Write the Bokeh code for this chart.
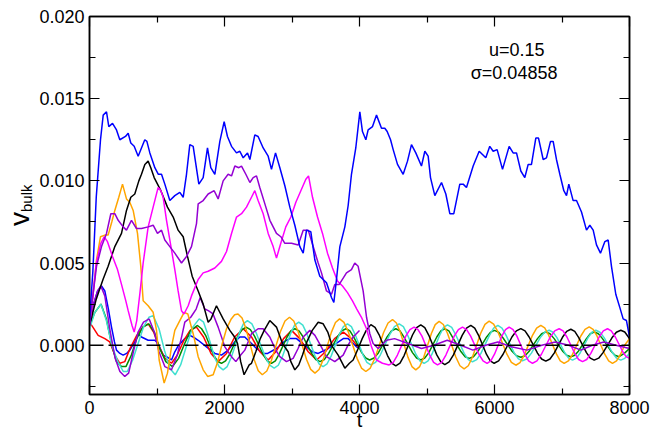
import math
from bokeh.plotting import figure
from bokeh.layouts import row
from bokeh.models import Range1d, FixedTicker, PrintfTickFormatter, LinearAxis, Span, Label, Div
from bokeh.embed import file_html
from bokeh.resources import INLINE

# ---------------- data ----------------
t_blue = [0, 50, 100, 163, 203, 252, 286, 341, 400, 449, 533, 573, 612, 662, 721, 770, 819, 850, 894, 968,
          1020, 1067, 1116, 1190, 1264, 1338, 1388, 1437, 1486, 1536, 1620, 1684, 1748, 1797, 1857, 1931, 1995,
          2044, 2104, 2178, 2227, 2277, 2341, 2376, 2449, 2498, 2573, 2647, 2696, 2756, 2820, 2894, 2968, 3042,
          3116, 3166, 3215, 3279, 3338, 3412, 3511, 3585, 3620, 3659, 3709, 3783, 3832, 3881, 3945, 4005, 4044,
          4094, 4128, 4193, 4252, 4326, 4375, 4410, 4460, 4499, 4563, 4647, 4711, 4770, 4834, 4918, 4968, 5017,
          5052, 5116, 5215, 5279, 5338, 5397, 5486, 5536, 5585, 5684, 5773, 5871, 5930, 5980, 6039, 6119, 6217,
          6276, 6326, 6390, 6449, 6499, 6548, 6612, 6652, 6721, 6770, 6830, 6869, 6918, 6968, 7027, 7067, 7101,
          7165, 7215, 7289, 7363, 7412, 7462, 7511, 7570, 7634, 7684, 7733, 7797, 7856, 7906, 7955, 8000]
v_blue = [0.0015, 0.0045, 0.0090, 0.0125, 0.0140, 0.0142, 0.0133, 0.0135, 0.0131, 0.0125, 0.0127, 0.0129,
          0.0123, 0.0121, 0.0115, 0.0120, 0.0125, 0.0124, 0.0117, 0.0108, 0.0104, 0.0104, 0.0098, 0.0088, 0.0091,
          0.0093, 0.0090, 0.0104, 0.0122, 0.0121, 0.0098, 0.0102, 0.0120, 0.0108, 0.0104, 0.0124, 0.0136, 0.0127,
          0.0121, 0.0117, 0.0118, 0.0114, 0.0117, 0.0113, 0.0128, 0.0127, 0.0120, 0.0115, 0.0107, 0.0117, 0.0108,
          0.0097, 0.0084, 0.0073, 0.0060, 0.0056, 0.0070, 0.0069, 0.0052, 0.0042, 0.0038, 0.0029, 0.0026, 0.0040,
          0.0060, 0.0072, 0.0085, 0.0104, 0.0120, 0.0142, 0.0130, 0.0125, 0.0131, 0.0133, 0.0140, 0.0132, 0.0132,
          0.0130, 0.0125, 0.0119, 0.0110, 0.0104, 0.0112, 0.0122, 0.0117, 0.0109, 0.0118, 0.0115, 0.0102, 0.0091,
          0.0099, 0.0092, 0.0080, 0.0080, 0.0098, 0.0098, 0.0096, 0.0109, 0.0118, 0.0114, 0.0121, 0.0118, 0.0119,
          0.0107, 0.0121, 0.0117, 0.0117, 0.0106, 0.0102, 0.0110, 0.0110, 0.0126, 0.0126, 0.0113, 0.0114, 0.0124,
          0.0124, 0.0113, 0.0104, 0.0094, 0.0091, 0.0098, 0.0088, 0.0088, 0.0081, 0.0070, 0.0073, 0.0070, 0.0061,
          0.0056, 0.0063, 0.0064, 0.0048, 0.0031, 0.0023, 0.0016, 0.0015, 0.0005]

t_black = [0, 50, 100, 150, 200, 276, 375, 474, 548, 612, 671, 731, 770, 820, 869, 908, 958, 1057, 1155, 1240,
           1313, 1388, 1452, 1521, 1610, 1684, 1758, 1800, 1881, 1980, 2079, 2150, 2193, 2240, 2290, 2366, 2400,
           2464, 2530, 2588, 2671, 2770, 2859, 2943, 2983, 3042, 3100, 3156, 3220, 3300, 3388, 3462, 3530, 3600,
           3684, 3783, 3850, 3906, 3980, 4040, 4100, 4168, 4230, 4291, 4415, 4476, 4538, 4600, 4661, 4785, 4846,
           4908, 4967, 5027, 5145, 5205, 5264, 5328, 5392, 5521, 5585, 5649, 5707, 5764, 5880, 5937, 5995, 6061,
           6127, 6258, 6324, 6390, 6452, 6513, 6637, 6698, 6760, 6822, 6884, 7007, 7069, 7131, 7189, 7246, 7362,
           7419, 7477, 7543, 7608, 7740, 7805, 7871, 7930, 8000]
v_black = [0.0012, 0.0020, 0.0028, 0.0034, 0.0040, 0.0048, 0.0060, 0.0068, 0.0082, 0.0090, 0.0092, 0.0100,
           0.0104, 0.0110, 0.0112, 0.0108, 0.0102, 0.0094, 0.0084, 0.0078, 0.0070, 0.0066, 0.0054, 0.0042, 0.0033,
           0.0025, 0.0014, 0.0016, 0.0024, 0.0016, 0.0009, 0.0005, 0.0001, -0.0010, -0.0018, -0.0012, -0.0011,
           -0.0004, 0.0004, 0.0009, 0.0015, 0.0011, 0.0001, -0.0004, -0.0010, -0.0015, -0.0012, -0.0006, 0.0002,
           0.0009, 0.0014, 0.0013, 0.0008, -0.0001, -0.0006, -0.0014, -0.0011, -0.0009, -0.0002, 0.0004, 0.0009,
           0.00125, 0.00108, 0.00063, -0.00063, -0.00109, -0.00126, -0.00109, -0.00063, 0.00062, 0.00107,
           0.00124, 0.00107, 0.0006, -0.00059, -0.00102, -0.00118, -0.00102, -0.00059, 0.0006, 0.00104,
           0.0012, 0.00104, 0.0006, -0.00055, -0.00095, -0.0011, -0.00095, -0.00055, 0.0005, 0.00087,
           0.00101, 0.00087, 0.0005, -0.00048, -0.00084, -0.00097, -0.00084, -0.00048, 0.00048, 0.00084,
           0.00097, 0.00084, 0.00048, -0.00045, -0.00079, -0.00091, -0.00079, -0.00045, 0.00045, 0.00079,
           0.00091, 0.0008, 0.0004]

t_orange = [0, 50, 104, 163, 227, 276, 330, 375, 434, 489, 548, 597, 647, 711, 760, 795, 869, 943, 993, 1032,
            1106, 1155, 1215, 1264, 1338, 1402, 1457, 1536, 1610, 1684, 1750, 1832, 1900, 1960, 2030, 2100, 2150,
            2200, 2260, 2320, 2440, 2500, 2560, 2627, 2694, 2829, 2896, 2963, 3026, 3089, 3214, 3277, 3340, 3401,
            3462, 3583, 3644, 3705, 3770, 3835, 3964, 4029, 4094, 4160, 4226, 4357, 4423, 4489, 4547, 4604, 4719,
            4777, 4834, 4892, 4949, 5065, 5122, 5180, 5242, 5303, 5427, 5488, 5550, 5612, 5674, 5797, 5859, 5921,
            5987, 6053, 6184, 6250, 6316, 6378, 6439, 6563, 6624, 6686, 6744, 6801, 6917, 6974, 7032, 7094, 7156,
            7279, 7341, 7403, 7461, 7518, 7633, 7691, 7748, 7808, 7868, 7928, 8000]
v_orange = [0.0012, 0.0030, 0.0052, 0.0066, 0.0067, 0.0067, 0.0075, 0.0082, 0.0090, 0.0098, 0.0089, 0.0087,
            0.0082, 0.0068, 0.0048, 0.0027, 0.0024, 0.0020, 0.0009, -0.0009, -0.0023, -0.0017, -0.0001, 0.0009,
            0.0015, 0.0020, 0.0019, 0.0007, -0.0007, -0.0015, -0.0019, -0.0018, -0.0010, 0.0000, 0.0010, 0.0016,
            0.00185, 0.0019, 0.00165, 0.00098, -0.00088, -0.00155, -0.0018, -0.00157, -0.00093, 0.00083, 0.00147,
            0.0017, 0.00147, 0.00085, -0.00085, -0.00147, -0.0017, -0.00148, -0.00088, 0.00078, 0.00138, 0.0016,
            0.00139, 0.0008, -0.0008, -0.00139, -0.0016, -0.00139, -0.00081, 0.00077, 0.00135, 0.00156, 0.00135,
            0.0008, -0.00074, -0.0013, -0.0015, -0.0013, -0.00076, 0.00071, 0.00125, 0.00145, 0.00126, 0.00073,
            -0.00072, -0.00125, -0.00144, -0.00125, -0.00072, 0.00074, 0.00127, 0.00146, 0.00128, 0.00079,
            -0.00055, -0.00104, -0.00122, -0.00106, -0.00062, 0.0006, 0.00104, 0.0012, 0.00105, 0.00062,
            -0.00053, -0.00096, -0.00111, -0.00096, -0.00056, 0.00056, 0.00096, 0.00111, 0.00096, 0.00056,
            -0.00055, -0.00095, -0.0011, -0.00095, -0.00055, 0.0000, 0.0004]

t_cyan = [0, 80, 168, 250, 330, 420, 500, 560, 640, 720, 800, 880, 943, 1030, 1110, 1190, 1270, 1350, 1440,
          1530, 1625, 1690, 1740, 1860, 1920, 1980, 2040, 2100, 2220, 2280, 2340, 2406, 2472, 2604, 2670, 2736,
          2797, 2857, 2979, 3039, 3100, 3160, 3220, 3340, 3400, 3460, 3520, 3581, 3701, 3762, 3822, 3880, 3937,
          4053, 4110, 4168, 4238, 4308, 4448, 4518, 4588, 4650, 4711, 4835, 4896, 4958, 5016, 5073, 5189, 5246,
          5304, 5366, 5427, 5551, 5612, 5674, 5737, 5799, 5925, 5987, 6050, 6111, 6172, 6293, 6354, 6415, 6481,
          6547, 6678, 6744, 6810, 6868, 6925, 7041, 7098, 7156, 7214, 7271, 7386, 7444, 7501, 7563, 7624, 7748,
          7809, 7871, 7930, 8000]
v_cyan = [0.0010, 0.0020, 0.0025, 0.0015, 0.0000, -0.0010, -0.0016, -0.0016, -0.0009, 0.0001, 0.0011, 0.0017,
          0.0018, 0.0010, -0.0003, -0.0014, -0.0018, -0.0012, 0.0000, 0.0011, 0.0016, 0.0014, 0.0008, -0.0008,
          -0.0013, -0.0015, -0.0013, -0.00075, 0.00075, 0.0013, 0.0015, 0.0013, 0.00073, -0.0007, -0.00122,
          -0.0014, -0.00122, -0.0007, 0.0007, 0.00122, 0.0014, 0.00122, 0.0007, -0.00065, -0.00113, -0.0013,
          -0.00113, -0.00065, 0.00065, 0.00113, 0.0013, 0.00113, 0.00063, -0.0006, -0.00104, -0.0012, -0.00104,
          -0.0006, 0.00065, 0.00113, 0.0013, 0.00113, 0.00063, -0.00055, -0.00096, -0.0011, -0.00096, -0.00055,
          0.00062, 0.00108, 0.00124, 0.00108, 0.00062, -0.0005, -0.00088, -0.00101, -0.00088, -0.0005, 0.0006,
          0.00104, 0.0012, 0.00104, 0.0006, -0.00048, -0.00083, -0.00095, -0.00083, -0.00048, 0.00046, 0.00079,
          0.00091, 0.00079, 0.00046, -0.00046, -0.00079, -0.00091, -0.00079, -0.00046, 0.00046, 0.00079,
          0.00091, 0.00079, 0.00046, -0.00046, -0.00079, -0.00091, -0.0008, -0.0005]

t_green = [0, 80, 170, 250, 330, 400, 474, 540, 620, 700, 790, 880, 960, 1040, 1130, 1230, 1320, 1410, 1500,
           1600, 1660, 1720, 1840, 1900, 1955, 2016, 2077, 2198, 2259, 2320, 2383, 2445, 2571, 2633, 2696, 2754,
           2811, 2927, 2984, 3042, 3104, 3166, 3291, 3353, 3415, 3479, 3543, 3672, 3736, 3800, 3858, 3917, 4033,
           4092, 4150, 4215, 4279, 4409, 4473, 4538, 4600, 4661, 4785, 4846, 4908, 4967, 5027, 5145, 5205, 5264,
           5324, 5384, 5505, 5565, 5625, 5688, 5750, 5875, 5938, 6000, 6065, 6130, 6260, 6325, 6390, 6452, 6513,
           6637, 6699, 6760, 6822, 6884, 7007, 7069, 7131, 7189, 7246, 7362, 7419, 7477, 7539, 7600, 7723, 7785,
           7846, 7923, 8000]
v_green = [0.0012, 0.0020, 0.0025, 0.0016, 0.0000, -0.0010, -0.0013, -0.0013, -0.0006, 0.0004, 0.0011, 0.0013,
           0.0008, -0.0002, -0.0010, -0.0013, -0.0008, 0.0001, 0.0009, 0.0012, 0.0010, 0.0006, -0.0006, -0.0010,
           -0.0011, -0.00095, -0.00055, 0.00055, 0.00095, 0.0011, 0.00095, 0.00055, -0.00055, -0.00095, -0.0011,
           -0.00095, -0.00053, 0.0005, 0.00087, 0.0010, 0.00087, 0.0005, -0.0005, -0.00087, -0.0010, -0.00087,
           -0.0005, 0.0005, 0.00087, 0.0010, 0.00087, 0.00048, -0.00045, -0.00078, -0.0009, -0.00078, -0.00047,
           0.0005, 0.00087, 0.0010, 0.00087, 0.00048, -0.00045, -0.00078, -0.0009, -0.00078, -0.00045, 0.0005,
           0.00087, 0.0010, 0.00087, 0.00045, -0.0004, -0.0007, -0.0008, -0.0007, -0.0004, 0.00045, 0.00078,
           0.0009, 0.00078, 0.00042, -0.00037, -0.00064, -0.00073, -0.00064, -0.00037, 0.0004, 0.0007, 0.0008,
           0.0007, 0.0004, -0.00035, -0.00061, -0.0007, -0.00061, -0.00035, 0.0004, 0.0007, 0.0008, 0.0007,
           0.0004, -0.00035, -0.00061, -0.0007, -0.0005, -0.0002]

t_red = [0, 50, 128, 227, 300, 375, 449, 523, 600, 700, 790, 869, 950, 1030, 1120, 1215, 1300, 1400, 1490,
         1585, 1690, 1800, 1906, 2030, 2150, 2277, 2400, 2525, 2647, 2760, 2875, 2993, 3115, 3240, 3365, 3495,
         3630, 3760, 3880, 3960, 4000]
v_red = [0.0014, 0.0011, 0.0006, 0.0004, 0.0002, -0.0006, -0.0011, -0.0010, -0.0002, 0.0006, 0.0011, 0.0013,
         0.0008, -0.0001, -0.0008, -0.0011, -0.0006, 0.0003, 0.0009, 0.0011, 0.0005, -0.0005, -0.0010, -0.0005,
         0.0005, 0.0010, 0.0005, -0.0004, -0.0009, -0.0004, 0.0004, 0.0009, 0.0004, -0.0004, -0.0009, -0.0004,
         0.0004, 0.0008, 0.0004, 0.0000, -0.0002]

t_blue2 = [0, 60, 120, 178, 227, 280, 326, 370, 400, 450, 499, 550, 597, 671, 721, 770, 869, 968, 1017, 1091,
           1141, 1215, 1264, 1320, 1412, 1486, 1536, 1610, 1733, 1857, 1955, 2054, 2150, 2227, 2300, 2400, 2474,
           2573, 2640, 2770, 2880, 2968, 3067, 3215, 3300, 3388, 3536, 3650, 3760, 3832, 3955, 4000]
v_blue2 = [0.0012, 0.0025, 0.0033, 0.0036, 0.0033, 0.0022, 0.0011, 0.0002, -0.0003, -0.0005, -0.0006, -0.0005,
           -0.0003, 0.0002, 0.0007, 0.0005, 0.0003, 0.0003, 0.0001, -0.0006, -0.0007, -0.0009, -0.0004, 0.0000,
           0.0004, 0.0006, 0.0005, 0.0003, -0.0001, -0.0005, -0.0006, -0.0003, 0.0002, 0.0005, 0.0005, 0.0001,
           -0.0002, -0.0005, -0.0005, -0.0002, 0.0002, 0.0004, 0.0004, -0.0001, -0.0004, -0.0005, -0.0002,
           0.0001, 0.0004, 0.0004, -0.0001, -0.0002]

t_violet2 = [0, 60, 120, 168, 227, 300, 380, 450, 523, 580, 650, 720, 800, 884, 960, 1030, 1116, 1215, 1300,
             1370, 1412, 1500, 1580, 1640, 1708, 1760, 1830, 1906, 2005, 2104, 2168, 2240, 2301, 2400, 2498, 2572,
             2671, 2760, 2820, 2918, 3017, 3090, 3166, 3264, 3340, 3420, 3511, 3634, 3758, 3830, 3906, 4000]
v_violet2 = [0.0012, 0.0025, 0.0033, 0.0036, 0.0030, 0.0010, -0.0008, -0.0016, -0.0019, -0.0017, -0.0004,
             0.0008, 0.0014, 0.0016, 0.0008, -0.0004, -0.0013, -0.0015, -0.0006, 0.0006, 0.0014, 0.0017, 0.0022,
             0.0029, 0.0022, 0.0021, 0.0019, 0.0011, -0.0001, -0.0007, -0.0010, -0.0006, -0.0003, 0.0007, 0.0010,
             0.0010, 0.0005, -0.0003, -0.0007, -0.0010, -0.0008, -0.0002, 0.0005, 0.0009, 0.0006, 0.0000, -0.0007,
             -0.0010, -0.0006, 0.0000, 0.0005, 0.0009]

t_magenta = [0, 50, 100, 168, 217, 266, 341, 415, 474, 538, 573, 630, 662, 700, 745, 795, 869, 943, 1017, 1057,
             1091, 1141, 1215, 1264, 1313, 1363, 1400, 1462, 1511, 1610, 1684, 1758, 1857, 1955, 2030, 2104, 2178,
             2252, 2326, 2400, 2449, 2498, 2573, 2647, 2721, 2770, 2834, 2908, 2983, 3057, 3131, 3205, 3245, 3304,
             3378, 3452, 3526, 3600, 3674, 3748, 3822, 3896, 3960, 4029, 4104, 4178, 4252, 4340, 4439, 4501, 4562,
             4686, 4747, 4809, 4867, 4925, 5040, 5098, 5156, 5218, 5280, 5403, 5465, 5526, 5587, 5647, 5769, 5830,
             5890, 5945, 6000, 6108, 6163, 6217, 6275, 6332, 6448, 6505, 6563, 6629, 6695, 6826, 6892, 6958, 7016,
             7073, 7189, 7246, 7304, 7366, 7427, 7551, 7612, 7674, 7730, 7790, 7900, 7950, 8000]
v_magenta = [0.0012, 0.0030, 0.0050, 0.0062, 0.0066, 0.0063, 0.0054, 0.0046, 0.0037, 0.0027, 0.0021, 0.0012,
             0.0008, 0.0015, 0.0031, 0.0050, 0.0072, 0.0084, 0.0096, 0.0094, 0.0090, 0.0076, 0.0058, 0.0046,
             0.0033, 0.0021, 0.0019, 0.0024, 0.0030, 0.0040, 0.0044, 0.0045, 0.0047, 0.0051, 0.0057, 0.0068,
             0.0078, 0.0080, 0.0084, 0.0090, 0.0094, 0.0088, 0.0080, 0.0068, 0.0060, 0.0053, 0.0062, 0.0072,
             0.0078, 0.0087, 0.0094, 0.0101, 0.0103, 0.0090, 0.0078, 0.0068, 0.0056, 0.0047, 0.0039, 0.0036,
             0.0032, 0.0027, 0.0022, 0.0017, 0.0010, -0.0001, -0.0009, -0.0011, -0.0012, -0.00104, -0.0006,
             0.00055, 0.00095, 0.0011, 0.00095, 0.00055, -0.0006, -0.00104, -0.0012, -0.00104, -0.0006, 0.00055,
             0.00095, 0.0011, 0.00095, 0.00055, -0.00055, -0.00095, -0.0011, -0.00095, -0.00055, 0.00055,
             0.00095, 0.0011, 0.00095, 0.00055, -0.00055, -0.00095, -0.0011, -0.00095, -0.00055, 0.0005,
             0.00087, 0.0010, 0.00087, 0.0005, -0.0005, -0.00087, -0.0010, -0.00087, -0.0005, 0.0005, 0.00087,
             0.0010, 0.00087, 0.0005, -0.0004, -0.0007, -0.0008]

t_violet = [0, 50, 104, 178, 252, 316, 375, 425, 499, 548, 622, 696, 770, 869, 943, 1007, 1067, 1116, 1190,
            1264, 1363, 1437, 1511, 1585, 1610, 1684, 1758, 1847, 1906, 1980, 2054, 2104, 2153, 2212, 2252, 2316,
            2376, 2425, 2474, 2523, 2598, 2672, 2721, 2770, 2835, 2894, 2993, 3092, 3166, 3240, 3314, 3388, 3437,
            3511, 3585, 3634, 3700, 3807, 3881, 3930, 3980, 4054, 4104, 4153, 4202, 4277, 4400, 4520, 4720, 4918,
            5100, 5300, 5500, 5680, 5870, 6050, 6250, 6480, 6700, 6900, 7100, 7280, 7450, 7620, 7800, 8000]
v_violet = [0.0012, 0.0030, 0.0048, 0.0060, 0.0068, 0.0080, 0.0080, 0.0076, 0.0072, 0.0070, 0.0076, 0.0071,
            0.0071, 0.0072, 0.0073, 0.0068, 0.0070, 0.0064, 0.0060, 0.0056, 0.0050, 0.0054, 0.0060, 0.0074,
            0.0086, 0.0088, 0.0092, 0.0094, 0.0089, 0.0100, 0.0104, 0.0103, 0.0109, 0.0108, 0.0109, 0.0104,
            0.0099, 0.0102, 0.0103, 0.0096, 0.0086, 0.0076, 0.0072, 0.0068, 0.0066, 0.0062, 0.0062, 0.0061,
            0.0070, 0.0070, 0.0060, 0.0050, 0.0044, 0.0033, 0.0031, 0.0037, 0.0037, 0.0044, 0.0046, 0.0050,
            0.0048, 0.0033, 0.0017, 0.0007, 0.0001, -0.0002, 0.0003, 0.0004, 0.0001, -0.0002, 0.0000, 0.0003,
            0.0000, -0.0003, 0.0000, 0.0002, -0.0001, -0.0003, 0.0000, 0.0002, 0.0000, -0.0003, 0.0000, 0.0002,
            0.0000, -0.0002]

x_ticks = [0, 2000, 4000, 6000, 8000]
x_minor = [1000, 3000, 5000, 7000]
y_ticks = [0.0, 0.005, 0.010, 0.015, 0.020]
y_minor = [-0.0025, 0.0025, 0.0075, 0.0125, 0.0175]
note_lines = ["u=0.15", "σ=0.04858"]
y_title = ["v", "bulk"]
x_title = "t"

# ---------------- layout ----------------
FONT = "Liberation Sans"
LABEL_W = 36
TOTAL_W, TOTAL_H = 650, 436

# narrow HTML panel carrying the rotated y-axis title: v with subscript "bulk"
title_html = (
    '<div style="position:absolute; left:6px; top:226px; transform:rotate(-90deg); '
    'transform-origin:left top; white-space:nowrap; font-family:\'Liberation Sans\'; '
    'font-size:28px; line-height:1; color:black;">'
    + y_title[0] + '<span style="font-size:15px; position:relative; top:3px;">' + y_title[1] + '</span></div>'
)
lab = Div(text=title_html, width=LABEL_W, height=TOTAL_H, margin=(0, 0, 0, 0),
          styles={"position": "relative", "overflow": "visible"})

p = figure(width=TOTAL_W - LABEL_W, height=TOTAL_H, output_backend="svg", toolbar_location=None,
           x_range=Range1d(0, 8000), y_range=Range1d(-0.003, 0.020),
           min_border_left=88 - LABEL_W, min_border_right=21, min_border_top=16, min_border_bottom=42)
p.grid.visible = False
p.outline_line_color = "black"
p.outline_line_width = 1.5

def style_axis(ax, labels=True):
    ax.axis_line_color = "black"
    ax.axis_line_width = 1.5
    ax.major_tick_in = 10
    ax.major_tick_out = 0
    ax.minor_tick_in = 6
    ax.minor_tick_out = 0
    ax.major_tick_line_color = "black"
    ax.minor_tick_line_color = "black"
    ax.major_tick_line_width = 1.2
    ax.minor_tick_line_width = 1.2
    ax.major_label_text_font = FONT
    ax.major_label_text_font_size = "18px" if labels else "0px"
    ax.major_label_text_color = "black" if labels else None

p.xaxis.ticker = FixedTicker(ticks=x_ticks, minor_ticks=x_minor)
p.yaxis.ticker = FixedTicker(ticks=y_ticks, minor_ticks=y_minor)
p.xaxis.formatter = PrintfTickFormatter(format="%d")
p.yaxis.formatter = PrintfTickFormatter(format="%.3f")
style_axis(p.xaxis[0])
style_axis(p.yaxis[0])
p.xaxis.major_label_standoff = 6
p.yaxis.major_label_standoff = 5
p.xaxis.axis_label = x_title
p.xaxis.axis_label_text_font = FONT
p.xaxis.axis_label_text_font_size = "20px"
p.xaxis.axis_label_text_font_style = "normal"
p.xaxis.axis_label_text_color = "black"
p.xaxis.axis_label_standoff = -8

ax_top = LinearAxis(ticker=FixedTicker(ticks=x_ticks, minor_ticks=x_minor))
ax_right = LinearAxis(ticker=FixedTicker(ticks=y_ticks, minor_ticks=y_minor))
style_axis(ax_top, labels=False)
style_axis(ax_right, labels=False)
ax_top.major_label_standoff = 0
ax_right.major_label_standoff = 0
p.add_layout(ax_top, "above")
p.add_layout(ax_right, "right")

LW = 1.5
p.line(t_blue2, v_blue2, line_color="#0000ff", line_width=LW)
p.line(t_red, v_red, line_color="#ff0000", line_width=LW)
p.line(t_green, v_green, line_color="#008b00", line_width=LW)
p.line(t_cyan, v_cyan, line_color="#40e0d0", line_width=LW)
p.line(t_violet2, v_violet2, line_color="#9400d3", line_width=LW)
p.line(t_orange, v_orange, line_color="#ffa500", line_width=LW)
p.line(t_black, v_black, line_color="#000000", line_width=LW)
p.line(t_magenta, v_magenta, line_color="#ff00ff", line_width=LW)
p.line(t_violet, v_violet, line_color="#9400d3", line_width=LW)
p.line(t_blue, v_blue, line_color="#0000ff", line_width=LW)

p.add_layout(Span(location=0.0, dimension="width", line_color="black", line_width=1.5, line_dash="14 5"))

p.add_layout(Label(x=6330, y=0.01799, text=note_lines[0], text_align="center", text_baseline="alphabetic",
                   text_font=FONT, text_font_size="18px", text_color="black"))
p.add_layout(Label(x=6290, y=0.01654, text=note_lines[1], text_align="center", text_baseline="alphabetic",
                   text_font=FONT, text_font_size="18px", text_color="black"))

layout = row(lab, p)
open("out.html", "w").write(file_html(layout, INLINE))
